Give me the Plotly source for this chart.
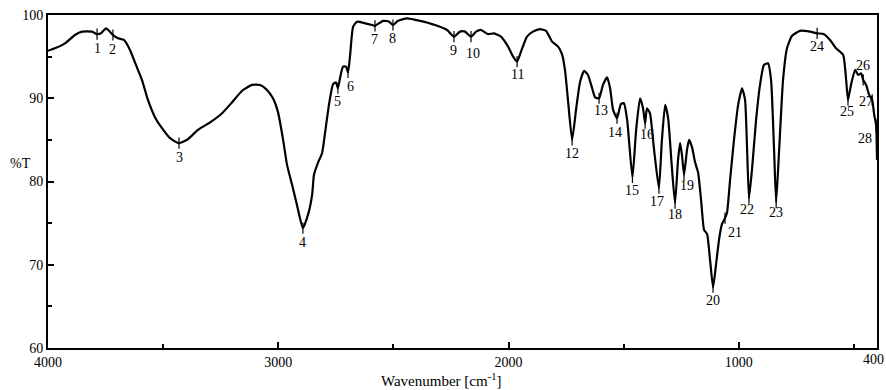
import plotly.graph_objects as go

# Spectrum trace (wavenumber cm^-1, transmittance %)
wavenumber = [4000, 3970, 3926, 3883, 3852, 3809, 3787, 3770, 3748, 3735, 3718, 3696, 3670, 3644, 3618,
              3592, 3566, 3535, 3505, 3470, 3431, 3392, 3349, 3296, 3244, 3201, 3157, 3114, 3079, 3049,
              3023, 3001, 2979, 2962, 2940, 2919, 2893, 2871, 2853, 2845, 2827, 2810, 2797, 2780, 2762,
              2749, 2741, 2732, 2719, 2706, 2697, 2688, 2675, 2658, 2623, 2593, 2580, 2545, 2519, 2502,
              2480, 2441, 2384, 2319, 2267, 2237, 2211, 2189, 2163, 2141, 2120, 2089, 2063, 2033, 2002,
              1980, 1963, 1946, 1920, 1894, 1863, 1837, 1811, 1785, 1768, 1755, 1742, 1724, 1707, 1690,
              1672, 1655, 1637, 1624, 1607, 1590, 1572, 1559, 1546, 1529, 1512, 1499, 1485, 1462, 1446,
              1429, 1416, 1407, 1399, 1386, 1368, 1347, 1334, 1320, 1307, 1290, 1277, 1264, 1255, 1247,
              1238, 1225, 1216, 1203, 1190, 1177, 1164, 1151, 1138, 1125, 1112, 1099, 1086, 1073, 1060,
              1051, 1038, 1021, 1003, 986, 973, 964, 956, 943, 925, 908, 891, 873, 860, 847,
              838, 825, 808, 791, 769, 734, 691, 660, 630, 604, 578, 547, 534, 526, 513,
              495, 482, 469, 460, 447, 434, 421, 412, 404, 400]
transmittance = [95.7, 96.0, 96.6, 97.6, 98.0, 98.0, 97.7, 97.8, 98.4, 98.1, 97.6, 97.2, 97.0, 95.8, 94.0,
                 92.2, 89.8, 87.7, 86.4, 85.2, 84.6, 85.1, 86.2, 87.1, 88.2, 89.5, 90.9, 91.6, 91.6, 91.0,
                 90.0, 88.3, 85.0, 82.0, 79.6, 77.2, 74.4, 76.0, 78.4, 80.8, 82.3, 83.4, 85.8, 89.2, 91.7,
                 91.9, 91.2, 92.4, 93.8, 93.8, 93.1, 95.2, 98.6, 99.2, 99.0, 98.8, 98.7, 99.3, 99.2, 98.8,
                 99.3, 99.6, 99.3, 98.8, 98.2, 97.4, 98.0, 98.0, 97.4, 98.0, 98.2, 97.7, 97.8, 97.4, 96.2,
                 95.0, 94.4, 95.6, 97.4, 98.0, 98.3, 98.1, 96.8, 96.2, 95.3, 93.4, 89.8, 85.0, 88.6, 91.9,
                 93.3, 92.8, 91.2, 90.1, 90.0, 91.6, 92.5, 91.2, 88.6, 87.6, 89.3, 89.4, 87.4, 80.5, 86.2,
                 90.0, 88.8, 87.0, 88.8, 88.2, 83.8, 79.2, 85.0, 89.2, 87.6, 81.4, 77.4, 82.6, 84.6, 83.2,
                 80.8, 83.8, 85.0, 84.1, 82.3, 81.1, 77.8, 74.2, 73.7, 70.6, 67.3, 70.0, 73.0, 74.9, 75.6,
                 76.3, 80.2, 85.0, 89.2, 91.2, 89.8, 83.8, 78.0, 81.4, 87.4, 91.6, 94.0, 94.2, 92.2, 83.8,
                 77.5, 83.8, 92.2, 96.0, 97.5, 98.1, 98.0, 97.8, 97.7, 97.0, 96.0, 95.2, 92.2, 89.8, 91.6,
                 93.4, 92.8, 93.0, 92.2, 91.6, 90.4, 89.8, 88.0, 86.8, 82.6]

# Axis ticks (the right-end label 400 is drawn right-aligned so it stays inside the page)
x_tickvals = [4000, 3000, 2000, 1000]
x_end_label = 400
y_tickvals = [60, 70, 80, 90, 100]

# Labelled peaks
peak_labels = [str(i) for i in range(1, 29)]
peak_wn = [3787, 3718, 3431, 2893, 2741, 2697, 2580, 2502, 2237, 2163, 1963, 1724, 1607, 1529,
           1462, 1407, 1347, 1277, 1238, 1112, 1060, 956, 838, 660, 526, 460, 421, 404]
peak_t = [97.7, 97.6, 84.6, 74.4, 91.2, 93.1, 98.7, 98.8, 97.4, 97.4, 94.4, 85.0, 90.0, 87.6,
          80.5, 87.0, 79.2, 77.4, 80.8, 67.3, 75.6, 78.0, 77.5, 97.8, 89.8, 92.2, 89.8, 86.8]
# label offsets in pixels (dx, dy)
label_dx = [0, 0, 0, 0, 0, 2, 0, 0, 0, 2, 0, 0, 2, -2, 0, 2, -2, 0, 3, 0, 10, -2, 0, 0, -1, 0, -6, -11]
label_dy = [-14, -15, -14, -14, -13, -14, -14, -14, -14, -17, -13, -14, -12, -14, -13, -11, -13, -11, -11, -13, -14, -11, -10, -13, -12, 14, -2, -14]

SERIF = "Liberation Serif"

fig = go.Figure()
fig.add_trace(go.Scatter(x=wavenumber, y=transmittance, mode="lines",
                         line=dict(color="black", width=2.2, shape="spline", smoothing=0.5),
                         hoverinfo="skip", showlegend=False))
fig.add_trace(go.Scatter(x=peak_wn, y=peak_t, mode="markers",
                         marker=dict(symbol="line-ns", size=8, line=dict(color="black", width=1.2)),
                         hoverinfo="skip", showlegend=False))

for lab, xw, yt, dx, dy in zip(peak_labels, peak_wn, peak_t, label_dx, label_dy):
    fig.add_annotation(x=xw, y=yt, text=lab, showarrow=False, xshift=dx, yshift=dy,
                       font=dict(family=SERIF, size=14, color="black"))

# end tick label 400
fig.add_annotation(x=x_end_label, y=0, xref="x", yref="paper", text=str(x_end_label), showarrow=False,
                   xanchor="right", yanchor="top", xshift=9, yshift=-2,
                   font=dict(family=SERIF, size=14, color="black"))

# axis titles as annotations
fig.add_annotation(x=-0.018, y=0.553, xref="paper", yref="paper", text="%T", showarrow=False,
                   xanchor="right", yanchor="middle",
                   font=dict(family=SERIF, size=14, color="black"))
fig.add_annotation(x=0.474, y=-0.063, xref="paper", yref="paper", text="Wavenumber [cm<sup>-1</sup>]",
                   showarrow=False, xanchor="center", yanchor="top",
                   font=dict(family=SERIF, size=15, color="black"))

fig.update_layout(
    width=886, height=390,
    margin=dict(l=48, r=9, t=15, b=42),
    paper_bgcolor="white", plot_bgcolor="white",
    font=dict(family=SERIF, size=14, color="black"),
    xaxis=dict(range=[4000, 400], tickvals=x_tickvals, automargin=False,
               ticks="inside", ticklen=6, tickwidth=1.5, tickcolor="black",
               minor=dict(tickvals=[3500, 2500, 1500, 500], ticks="inside", ticklen=4, tickcolor="black"),
               showline=True, linecolor="black", linewidth=2, mirror=True, showgrid=False, zeroline=False,
               tickfont=dict(family=SERIF, size=14)),
    yaxis=dict(range=[60, 100], tickvals=y_tickvals, automargin=False,
               ticks="inside", ticklen=6, tickwidth=1.5, tickcolor="black",
               minor=dict(tickvals=[65, 75, 85, 95], ticks="inside", ticklen=4, tickcolor="black"),
               showline=True, linecolor="black", linewidth=2, mirror=True, showgrid=False, zeroline=False,
               tickfont=dict(family=SERIF, size=14)),
)

fig.write_html("out.html", config={"displayModeBar": False},
               post_script="document.body.style.margin='0';document.body.style.overflow='hidden';")
